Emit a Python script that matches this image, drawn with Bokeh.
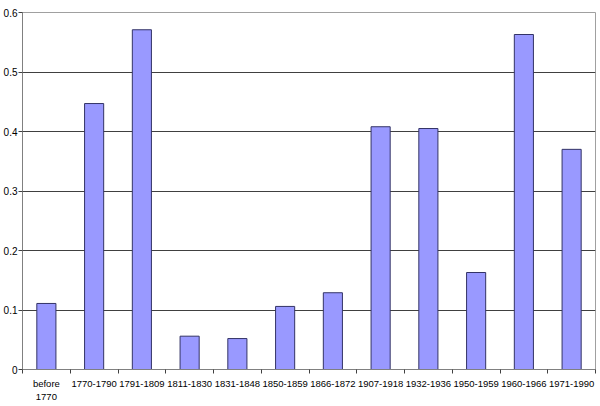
from bokeh.plotting import figure
from bokeh.models import Range1d, FixedTicker, LinearAxis
from bokeh.embed import file_html
from bokeh.resources import INLINE

categories = ["before\n1770", "1770-1790", "1791-1809", "1811-1830", "1831-1848",
              "1850-1859", "1866-1872", "1907-1918", "1932-1936", "1950-1959",
              "1960-1966", "1971-1990"]
values = [0.111, 0.447, 0.571, 0.056, 0.052, 0.106, 0.129, 0.408, 0.405, 0.163, 0.563, 0.370]
y_ticks = [0, 0.1, 0.2, 0.3, 0.4, 0.5, 0.6]
y_tick_labels = ["0", "0.1", "0.2", "0.3", "0.4", "0.5", "0.6"]

n = len(categories)
xpos = [i + 0.5 for i in range(n)]

p = figure(width=600, height=406, output_backend="svg", toolbar_location=None,
           x_range=Range1d(0, n), y_range=Range1d(0, 0.6), x_axis_type=None,
           min_border_left=2, min_border_right=5, min_border_top=12, min_border_bottom=37)
p.background_fill_color = "white"
p.border_fill_color = "white"
p.outline_line_color = "#A0A0A0"
p.outline_line_width = 1

p.vbar(x=xpos, top=values, width=0.4, fill_color="#9999FF", line_color="#333366", line_width=1)

xaxis = LinearAxis(ticker=FixedTicker(ticks=xpos, minor_ticks=list(range(n + 1))))
xaxis.major_label_overrides = {x: c for x, c in zip(xpos, categories)}
xaxis.major_tick_line_color = None
xaxis.minor_tick_out = 4
xaxis.minor_tick_in = 0
xaxis.minor_tick_line_color = "#404040"
xaxis.axis_line_color = "#808080"
xaxis.major_label_text_font = "Liberation Sans"
xaxis.major_label_text_font_size = "9.5px"
xaxis.major_label_text_color = "#000000"
xaxis.major_label_standoff = 2
p.add_layout(xaxis, "below")

yaxis = p.yaxis[0]
yaxis.ticker = FixedTicker(ticks=y_ticks, minor_ticks=[])
yaxis.major_label_overrides = {t: l for t, l in zip(y_ticks, y_tick_labels)}
yaxis.major_tick_out = 4
yaxis.major_tick_in = 0
yaxis.major_tick_line_color = "#404040"
yaxis.axis_line_color = "#808080"
yaxis.major_label_text_font = "Liberation Sans"
yaxis.major_label_text_font_size = "10px"
yaxis.major_label_text_color = "#000000"
yaxis.major_label_standoff = 1

p.xgrid.visible = False
p.ygrid.ticker = FixedTicker(ticks=y_ticks[1:-1])
p.ygrid.grid_line_color = "#404040"
p.ygrid.grid_line_width = 1
p.ygrid.level = "underlay"

open("out.html", "w").write(file_html(p, INLINE))
